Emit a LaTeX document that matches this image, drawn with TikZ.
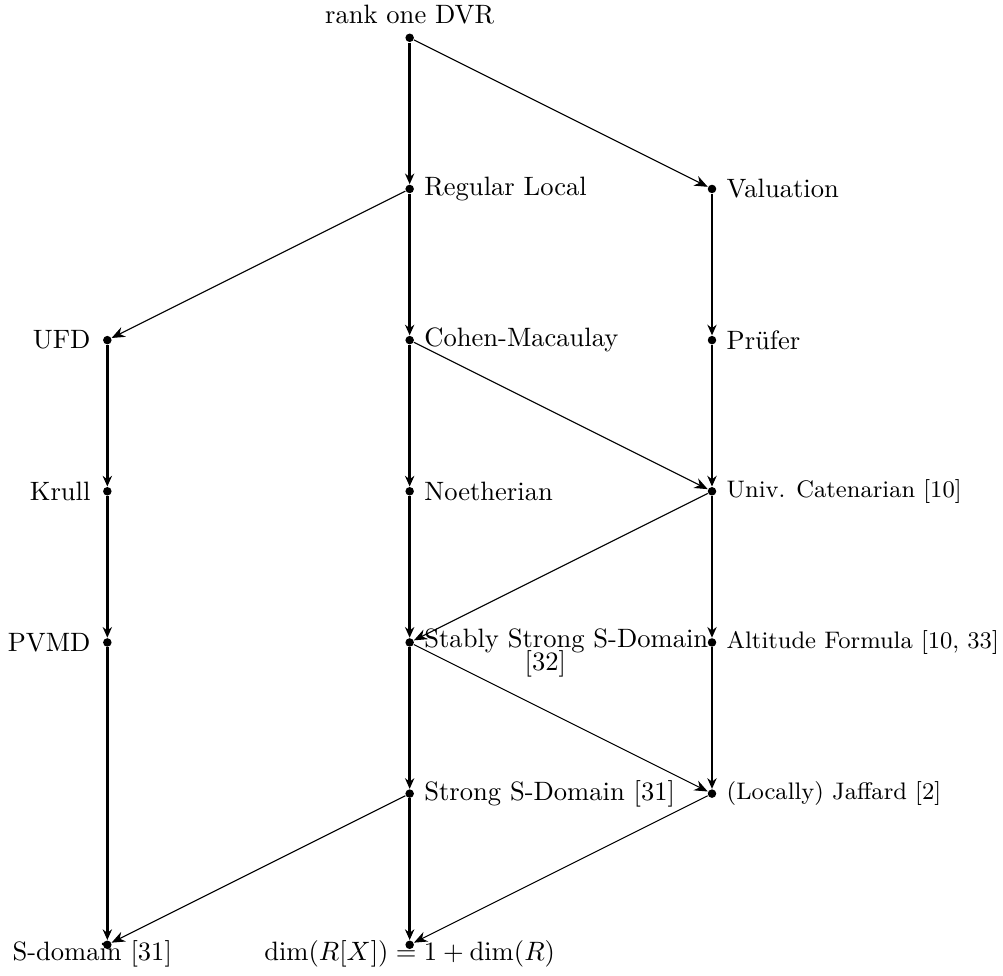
\documentclass[tikz,border=0pt]{standalone}
\usepackage{amsmath}
\usetikzlibrary{arrows.meta}

\begin{document}
\begin{tikzpicture}[
        font=\normalsize, % Fuente de las etiquetas
        dot/.style={circle, fill, inner sep=0pt, minimum size=3.2pt}, % Punto de cada clase
        chain/.style={-{Stealth[length=4pt,width=3.5pt]}, line width=1pt}, % Implicaciones verticales
        cross/.style={-{Stealth[length=5pt,width=4pt]}, line width=0.4pt}, % Implicaciones diagonales
        rlabel/.style={anchor=west, xshift=2pt}, % Etiqueta a la derecha
        llabel/.style={anchor=east, xshift=-2.8pt}, % Etiqueta a la izquierda
        blabel/.style={anchor=north, yshift=5pt} % Etiqueta debajo
    ]
        \useasboundingbox (-1.42,-12.41) rectangle (11.85,0.50);

        % --- Columna central ---
        \node[dot] (dvr) at (4,0) {};
        \node[dot] (reg) at (4,-2) {};
        \node[dot] (cm) at (4,-4) {};
        \node[dot] (noe) at (4,-6) {};
        \node[dot] (sssd) at (4,-8) {};
        \node[dot] (ssd) at (4,-10) {};
        \node[dot] (dim) at (4,-12) {};

        % --- Columna derecha ---
        \node[dot] (val) at (8,-2) {};
        \node[dot] (pru) at (8,-4) {};
        \node[dot] (uc) at (8,-6) {};
        \node[dot] (alt) at (8,-8) {};
        \node[dot] (jaf) at (8,-10) {};

        % --- Columna izquierda ---
        \node[dot] (ufd) at (0,-4) {};
        \node[dot] (krull) at (0,-6) {};
        \node[dot] (pvmd) at (0,-8) {};
        \node[dot] (sdom) at (0,-12) {};

        % --- Etiquetas ---
        \node[anchor=south, yshift=1.5pt] (dvrT) at (dvr) {rank one DVR};
        \node[rlabel] (regT) at (reg) {Regular Local};
        \node[rlabel] (cmT) at (cm) {Cohen-Macaulay};
        \node[rlabel] (noeT) at (noe) {Noetherian};
        \node[anchor=base west, xshift=2pt, yshift=-2pt, text width=3.2cm, align=center] (sssdT) at (sssd) {\mbox{Stably Strong S-Domain}\\[-3.5pt] [32]};
        \node[rlabel] (ssdT) at (ssd) {Strong S-Domain [31]};
        \node[blabel] (dimT) at (dim) {$\dim(R[X]) = 1 + \dim(R)$};

        \node[rlabel] (valT) at (val) {Valuation};
        \node[rlabel] (pruT) at (pru) {Prüfer};
        \node[rlabel, font=\small] (ucT) at (uc) {Univ. Catenarian [10]};
        \node[rlabel, font=\small] (altT) at (alt) {Altitude Formula [10, 33]};
        \node[rlabel, font=\small] (jafT) at (jaf) {(Locally) Jaffard [2]};

        \node[llabel] (ufdT) at (ufd) {UFD};
        \node[llabel] (krullT) at (krull) {Krull};
        \node[llabel] (pvmdT) at (pvmd) {PVMD};
        \node[blabel, xshift=-0.2cm] (sdomT) at (sdom) {S-domain [31]};

        % --- Implicaciones verticales ---
        \draw[chain] (dvr) -- (reg);
        \draw[chain] (reg) -- (cm);
        \draw[chain] (cm) -- (noe);
        \draw[chain] (noe) -- (sssd);
        \draw[chain] (sssd) -- (ssd);
        \draw[chain] (ssd) -- (dim);
        \draw[chain] (val) -- (pru);
        \draw[chain] (pru) -- (uc);
        \draw[chain] (uc) -- (alt);
        \draw[chain] (alt) -- (jaf);
        \draw[chain] (ufd) -- (krull);
        \draw[chain] (krull) -- (pvmd);
        \draw[chain] (pvmd) -- (sdom);

        % --- Implicaciones diagonales ---
        \draw[cross] (dvr) -- (val);
        \draw[cross] (reg) -- (ufd);
        \draw[cross] (cm) -- (uc);
        \draw[cross] (uc) -- (sssd);
        \draw[cross] (sssd) -- (jaf);
        \draw[cross] (ssd) -- (sdom);
        \draw[cross] (jaf) -- (dim);

    \end{tikzpicture}
\end{document}
